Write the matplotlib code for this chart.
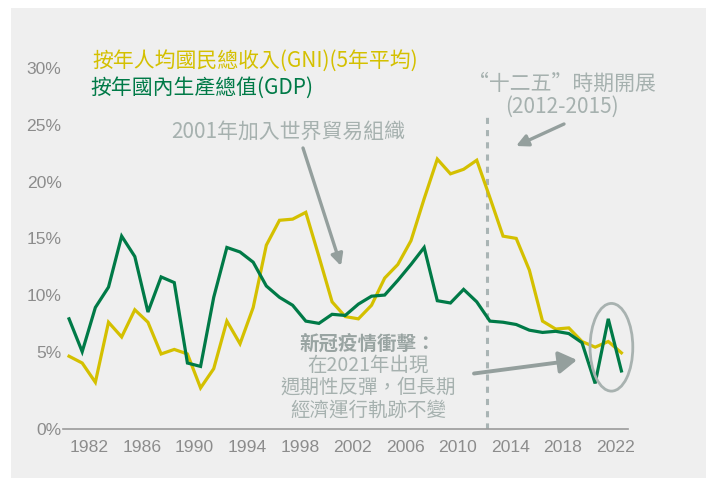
import matplotlib
matplotlib.use("Agg")
import matplotlib.pyplot as plt
from matplotlib.patches import Rectangle, Ellipse

# ---- data ----
years = list(range(1980, 2023))
gdp = [7.9, 5.0, 8.9, 10.7, 15.2, 13.4, 8.5, 11.6, 11.1, 4.0, 3.7, 9.8,
       14.2, 13.8, 12.9, 10.8, 9.8, 9.1, 7.7, 7.5, 8.3, 8.2, 9.2,
       9.9, 10.0, 11.3, 12.7, 14.2, 9.5, 9.3, 10.5, 9.4, 7.7,
       7.6, 7.4, 6.9, 6.7, 6.8, 6.6, 5.8, 2.2, 7.9, 3.3]
gni = [4.6, 4.0, 2.3, 7.6, 6.3, 8.7, 7.6, 4.8, 5.2, 4.8, 1.8, 3.5,
       7.7, 5.7, 8.9, 14.4, 16.6, 16.7, 17.3, 13.4, 9.4, 8.1, 7.9,
       9.1, 11.5, 12.7, 14.8, 18.5, 22.0, 20.7, 21.1, 21.9, 18.6,
       15.2, 15.0, 12.2, 7.7, 7.0, 7.1, 5.9, 5.4, 5.9, 4.9]
xtick_years = list(range(1982, 2023, 4))
ytick_vals = [5, 10, 15, 20, 25, 30]

gni_label = "按年人均國民總收入(GNI)(5年平均)"
gdp_label = "按年國內生產總值(GDP)"
wto_text = "2001年加入世界貿易組織"
fyp_text = "“十二五”時期開展\n(2012-2015)"
covid_title = "新冠疫情衝擊："
covid_body = "在2021年出現\n週期性反彈，但長期\n經濟運行軌跡不變"

YELLOW = "#d4c000"
GREEN = "#007a47"
GRAY_TXT = "#a6b1af"
GRAY_ARW = "#949f9d"
TICK_C = "#8c8c8c"
CJK = ["Noto Sans CJK TC", "DejaVu Sans"]

W, H = 706, 478
fig = plt.figure(figsize=(W / 100, H / 100), dpi=100)
fig.patch.set_facecolor("white")
fig.patches.append(Rectangle((11 / W, 0), (W - 11) / W, (H - 8) / H,
                             transform=fig.transFigure, facecolor="#efefef",
                             edgecolor="none", zorder=-10))


def fx(x):
    return x / W


def fy(y):
    return 1 - y / H


# axes geometry (pixels)
L, R, T, B = 63, 628, 50, 429.3
ax = fig.add_axes([fx(L), fy(B), (R - L) / W, (B - T) / H])
ax.set_facecolor("none")
ymin, ymax = -1.85, 31.63
ax.set_xlim(1979.54, 2022.5)
ax.set_ylim(ymin, ymax)

ax.plot(years, gni, color=YELLOW, lw=2.3, zorder=3, solid_joinstyle="miter")
ax.plot(years, gdp, color=GREEN, lw=2.3, zorder=4, solid_joinstyle="miter")

for s in ["top", "right", "left"]:
    ax.spines[s].set_visible(False)
ax.spines["bottom"].set_color("#9a9a9a")
ax.spines["bottom"].set_linewidth(1.2)

ax.set_xticks([y - 0.45 for y in xtick_years])
ax.set_xticklabels([str(y) for y in xtick_years])
ax.set_yticks([ymin] + ytick_vals)
ax.set_yticklabels(["0%"] + [f"{v}%" for v in ytick_vals])
ax.tick_params(axis="both", length=0, colors=TICK_C, labelsize=12.6)
ax.tick_params(axis="x", pad=8)
ax.tick_params(axis="y", pad=1)
for lab in ax.get_xticklabels() + ax.get_yticklabels():
    lab.set_fontfamily("Liberation Sans")

# dashed 12th FYP line
ax.vlines(2011.8, ymin, 25.9, colors="#a9b4b4", lw=2.2,
          linestyles=(0, (2.0, 2.0)), zorder=2)

# ellipse around 2020-2022
ax.add_patch(Ellipse((2021.24, 5.39), 3.25, 7.74, facecolor="none",
                     edgecolor="#a8b2b0", lw=2.0, zorder=5, clip_on=False))

# legend texts
fig.text(fx(92), fy(61), gni_label, color=YELLOW, fontsize=15,
         family=CJK, va="center", ha="left")
fig.text(fx(90), fy(88), gdp_label, color=GREEN, fontsize=15,
         family=CJK, va="center", ha="left")

# WTO annotation
fig.text(fx(171), fy(131.7), wto_text, color=GRAY_TXT, fontsize=15,
         family=CJK, va="center", ha="left")
ax.annotate("", xy=(fx(341), fy(266)), xytext=(fx(303), fy(148)),
            xycoords="figure fraction", textcoords="figure fraction",
            arrowprops=dict(arrowstyle="-|>,head_length=0.7,head_width=0.35",
                            color=GRAY_ARW, lw=2.4, shrinkA=0, shrinkB=0,
                            mutation_scale=10))

# 12th FYP annotation
fig.text(fx(562), fy(95), fyp_text, color=GRAY_TXT, fontsize=15,
         family=CJK, va="center", ha="center", linespacing=1.05)
ax.annotate("", xy=(fx(516), fy(146)), xytext=(fx(564), fy(124)),
            xycoords="figure fraction", textcoords="figure fraction",
            arrowprops=dict(arrowstyle="-|>,head_length=0.7,head_width=0.35",
                            color=GRAY_ARW, lw=2.4, shrinkA=0, shrinkB=0,
                            mutation_scale=10))

# COVID annotation
fig.text(fx(368), fy(344), covid_title, color="#99a4a2", fontsize=14,
         family=CJK, va="center", ha="center", fontweight="bold")
fig.text(fx(368), fy(387.5), covid_body, color=GRAY_TXT, fontsize=14,
         family=CJK, va="center", ha="center", linespacing=1.1)
ax.annotate("", xy=(fx(577), fy(360)), xytext=(fx(474), fy(373.5)),
            xycoords="figure fraction", textcoords="figure fraction",
            arrowprops=dict(arrowstyle="-|>,head_length=0.9,head_width=0.55",
                            color=GRAY_ARW, lw=2.8, shrinkA=0, shrinkB=0,
                            mutation_scale=12))

fig.savefig("out.png", dpi=100)
